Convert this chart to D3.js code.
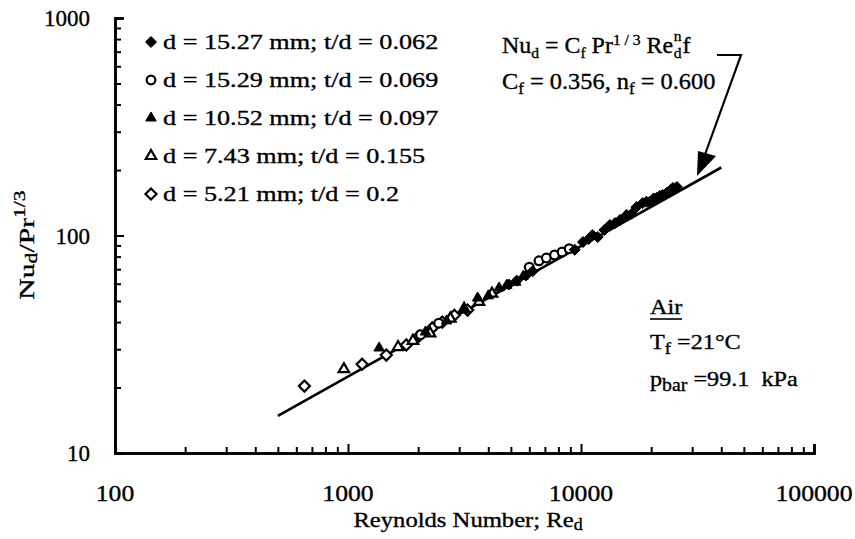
<!DOCTYPE html>
<html>
<head>
<meta charset="utf-8">
<script src="https://cdn.jsdelivr.net/npm/d3@7"></script>
<style>
  html, body { margin: 0; padding: 0; background: #fff; }
  svg { display: block; }
  text { font-family: "Liberation Serif", "Times New Roman", serif; fill: #000; stroke: #000; stroke-width: 0.35px; }
</style>
</head>
<body>
<svg id="chart" width="855" height="539"></svg>
<script>
// ---- data ----
const seriesNames = [
  "d = 15.27 mm; t/d = 0.062",
  "d = 15.29 mm; t/d = 0.069",
  "d = 10.52 mm; t/d = 0.097",
  "d = 7.43 mm; t/d = 0.155",
  "d = 5.21 mm; t/d = 0.2"
];
const seriesSymbols = ["diamondFilled", "circleOpen", "triangleFilled", "triangleOpen", "diamondOpen"];

// d = 15.27 mm (filled diamonds)
const re1  = [4900, 5300, 5800, 6200, 9400, 10200, 10800, 11200, 11800, 12600, 13300, 14000, 14700, 15700, 16500, 17300, 18400, 19100, 19700, 20500, 21100, 21800, 22400, 23300, 24200, 24800, 25800];
const nu1  = [59.5, 62.0, 65.5, 68.5, 86.0, 93.3, 96.5, 100.5, 98.4, 106, 111.7, 114, 117.8, 124.3, 126, 135.2, 141.0, 143, 142.6, 148, 148.7, 152, 153.5, 157, 162, 165.3, 167.1];
// d = 15.29 mm (open circles)
const re2  = [2050, 2450, 6000, 6600, 7100, 7700, 8300, 8900];
const nu2  = [35.0, 39.5, 71.5, 76.5, 78.8, 81.4, 84.0, 87.0];
// d = 10.52 mm (filled triangles)
const re3  = [1360, 2150, 2650, 3150, 3600, 4000, 4450, 4800, 5250, 5650];
const nu3  = [30.4, 36.0, 40.5, 45.5, 51.6, 52.8, 57.4, 59.0, 61.0, 65.0];
// d = 7.43 mm (open triangles)
const re4  = [960, 1640, 1900, 2250, 2750, 3150, 3650, 4150];
const nu4  = [24.3, 30.7, 32.8, 35.5, 41.5, 46.0, 49.5, 54.0];
// d = 5.21 mm (open diamonds)
const re5  = [650, 1150, 1460, 1780, 2020, 2300, 2540, 2860, 3260];
const nu5  = [20.3, 25.6, 28.2, 31.4, 34.5, 37.6, 40.0, 43.0, 45.4];

// correlation line Nu_d/Pr^(1/3) = Cf * Re^nf
const fitC = 0.356, fitN = 0.600;
const fitRe = [500, 40000];

// axis ticks
const xMajor = [100, 1000, 10000, 100000];
const yMajor = [10, 100, 1000];

// ---- chart ----
const svg = d3.select("#chart");
const x = d3.scaleLog().domain([100, 100000]).range([115, 814]);
const y = d3.scaleLog().domain([10, 1000]).range([453, 18]);

const minorX = [];
[100, 1000, 10000].forEach(b => { for (let k = 2; k <= 9; k++) minorX.push(b * k); });
const minorY = [];
[10, 100].forEach(b => { for (let k = 2; k <= 9; k++) minorY.push(b * k); });

// helper: text group placed at (px,py), stretched horizontally by sx
function tgroup(px, py, sx, rot) {
  return svg.append("g").attr("transform",
    `translate(${px},${py})` + (rot ? ` rotate(${rot})` : "") + ` scale(${sx},1)`);
}
const NB = "\u00A0";

// x axis
const gx = svg.append("g").attr("transform", `translate(0,${y(10)})`);
gx.call(d3.axisBottom(x).tickValues(minorX).tickSize(-6).tickFormat(""));
gx.append("g").call(d3.axisBottom(x).tickValues(xMajor.slice(1)).tickSize(-9).tickFormat(""));
gx.selectAll(".domain").attr("stroke-width", 2.6).attr("stroke", "#000");
gx.selectAll(".tick line").attr("stroke-width", 2).attr("stroke", "#000");
xMajor.forEach(v => {
  tgroup(x(v), 501, 1.12).append("text").attr("text-anchor", "middle").attr("font-size", 23).text(d3.format("d")(v));
});

// y axis
const gy = svg.append("g").attr("transform", `translate(${x(100)},0)`);
gy.call(d3.axisLeft(y).tickValues(minorY).tickSize(-6).tickFormat(""));
gy.append("g").call(d3.axisLeft(y).tickValues(yMajor.slice(1)).tickSize(-9).tickFormat(""));
gy.selectAll(".domain").attr("stroke-width", 2.6).attr("stroke", "#000");
gy.selectAll(".tick line").attr("stroke-width", 2).attr("stroke", "#000");
yMajor.forEach(v => {
  tgroup(90, y(v) + 8, 1.0).append("text").attr("text-anchor", "end").attr("font-size", 23).text(d3.format("d")(v));
});
svg.selectAll(".domain").attr("fill", "none");

// fit line
const line = d3.line().x(d => x(d[0])).y(d => y(d[1]));
svg.append("path")
  .datum(fitRe.map(r => [r, fitC * Math.pow(r, fitN)]))
  .attr("d", line).attr("fill", "none").attr("stroke", "#000").attr("stroke-width", 2.6);

// markers
function symbolPath(kind) {
  if (kind.startsWith("diamond")) return d3.symbol().type(d3.symbolDiamond2).size(78)();
  if (kind.startsWith("circle")) return d3.symbol().type(d3.symbolCircle).size(60)();
  return d3.symbol().type(d3.symbolTriangle2).size(78)();
}
function styleMarker(sel, kind) {
  const filled = kind.endsWith("Filled");
  sel.attr("d", symbolPath(kind))
    .attr("fill", filled ? "#000" : "#fff")
    .attr("stroke", "#000")
    .attr("stroke-width", filled ? 1 : 2.2);
}
const allSeries = [[re1, nu1], [re2, nu2], [re3, nu3], [re4, nu4], [re5, nu5]];
const drawOrder = [4, 3, 1, 2, 0];
drawOrder.forEach(i => {
  const [re, nu] = allSeries[i];
  const pts = re.map((r, j) => [r, nu[j]]);
  svg.append("g").selectAll("path").data(pts).join("path")
    .attr("transform", d => `translate(${x(d[0])},${y(d[1])})`)
    .call(styleMarker, seriesSymbols[i]);
});

// legend
const legY = [42, 80, 118, 156, 194];
seriesNames.forEach((name, i) => {
  svg.append("path").attr("transform", `translate(151,${legY[i]})`).call(styleMarker, seriesSymbols[i]);
  tgroup(163, legY[i] + 7, 1.19).append("text").attr("font-size", 22).text(name);
});

// equation annotation (line 1 split so the stacked sub/superscript stay separate)
const eqG = tgroup(502, 53, 1.04);
const eq = eqG.append("text").attr("font-size", 23);
eq.append("tspan").text("Nu");
eq.append("tspan").attr("font-size", 15).attr("dy", 5).text("d");
eq.append("tspan").attr("dy", -5).text(" = C");
eq.append("tspan").attr("font-size", 15).attr("dy", 5).text("f");
eq.append("tspan").attr("dy", -5).text(" Pr");
eq.append("tspan").attr("font-size", 15).attr("dy", -8).text("1 / 3");
eq.append("tspan").attr("dy", 8).text(" Re");
const eqLen = eq.node().getComputedTextLength();
const subD = eqG.append("text").attr("x", eqLen + 0.5).attr("y", 5).attr("font-size", 15).text("d");
const subLen = subD.node().getComputedTextLength();
eqG.append("text").attr("x", eqLen + 0.5).attr("y", -12).attr("font-size", 15).text("n");
eqG.append("text").attr("x", eqLen + subLen + 1.5).attr("y", 0).attr("font-size", 23).text("f");

const eq2 = tgroup(502, 89, 1.06).append("text").attr("font-size", 23);
eq2.append("tspan").text("C");
eq2.append("tspan").attr("font-size", 16).attr("dy", 5).text("f");
eq2.append("tspan").attr("dy", -5).text(" = 0.356, n");
eq2.append("tspan").attr("font-size", 16).attr("dy", 5).text("f");
eq2.append("tspan").attr("dy", -5).text(" = 0.600");

// arrow
svg.append("path").attr("d", "M717,55 L741,55 L703,160")
  .attr("fill", "none").attr("stroke", "#000").attr("stroke-width", 2.2);
svg.append("path").attr("d", "M698,151 L716,156 L697,176 Z").attr("fill", "#000");

// conditions
const cx0 = 650;
tgroup(cx0, 314, 1.1).append("text").attr("font-size", 22).text("Air");
svg.append("line").attr("x1", cx0).attr("x2", cx0 + 32).attr("y1", 319).attr("y2", 319).attr("stroke", "#000").attr("stroke-width", 1.6);
const ct = tgroup(cx0, 349, 1.1).append("text").attr("font-size", 22);
ct.append("tspan").text("T");
ct.append("tspan").attr("font-size", 17).attr("dy", 5).text("f");
ct.append("tspan").attr("dy", -5).text(NB + "=21°C");
const cp = tgroup(cx0, 386, 1.1).append("text").attr("font-size", 22);
cp.append("tspan").text("p");
cp.append("tspan").attr("font-size", 18).attr("dy", 5).text("bar");
cp.append("tspan").attr("dy", -5).text(NB + "=99.1" + NB + NB + "kPa");

// axis titles
const xt = tgroup(468, 527, 1.12).append("text").attr("text-anchor", "middle").attr("font-size", 22);
xt.append("tspan").text("Reynolds Number; Re");
xt.append("tspan").attr("font-size", 16).attr("dy", 3).text("d");

const yt = tgroup(34, 245, 1.35, -90).append("text").attr("text-anchor", "middle").attr("font-size", 22);
yt.append("tspan").text("Nu");
yt.append("tspan").attr("font-size", 16).attr("dy", 3).text("d");
yt.append("tspan").attr("dy", -3).text("/Pr");
yt.append("tspan").attr("font-size", 16).attr("dy", -9).text("1/3");
</script>
</body>
</html>
